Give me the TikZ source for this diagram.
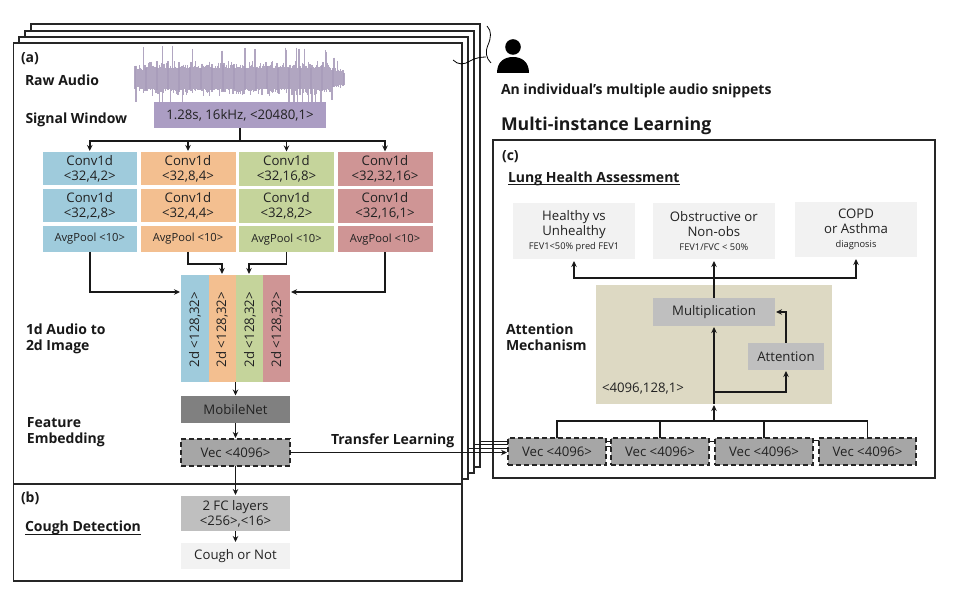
\documentclass[tikz,border=0pt]{standalone}
\usepackage{fontspec}
\setmainfont{Open Sans}
\usetikzlibrary{arrows.meta,calc}
\definecolor{cblue}{HTML}{9FCBDC}
\definecolor{corange}{HTML}{F3BF90}
\definecolor{cgreen}{HTML}{C5D49B}
\definecolor{cred}{HTML}{CF9595}
\definecolor{cpurple}{HTML}{AB9DC3}
\definecolor{cwave}{HTML}{A99DBB}
\definecolor{ctan}{HTML}{DDD9C3}
\definecolor{cgrey}{HTML}{BFBFBF}
\definecolor{clight}{HTML}{F2F2F2}
\definecolor{cvec}{HTML}{A6A6A6}
\definecolor{cdark}{HTML}{808080}
\definecolor{cink}{HTML}{222222}
\newcommand\bx[7]{\node[#6,minimum width={(#4-#2)*1pt},minimum height={(#5-#3)*1pt}] (#1) at ({(#2+#4)/2},{(#3+#5)/2}) {#7};}
\newcommand\smalltxt{\fontsize{9.3}{11}\selectfont}
\tikzset{
  box/.style={inner sep=0pt,outer sep=0pt,align=center,text=cink,font=\fontsize{13.2}{15}\selectfont},
  pool/.style={box,font=\fontsize{11.2}{13}\selectfont},
  frame/.style={draw=black!85,line width=1.3pt,fill=white},
  vecbox/.style={box,fill=cvec,draw=black!85,line width=1.4pt,dash pattern=on 5pt off 3pt},
  head/.style={inner sep=0pt,outer sep=0pt,anchor=west,align=left,yshift=-1.5pt,font=\fontsize{14}{16}\selectfont\bfseries,text=black!90},
  arr/.style={draw=black!90,line width=1.7pt,-{Stealth[length=6pt,width=5.5pt]},shorten >=1pt},
  lin/.style={draw=black!90,line width=1.7pt},
  thinlink/.style={draw=black!90,line width=0.9pt}
}
\begin{document}
\begin{tikzpicture}[x=1pt,y=-1pt]
\useasboundingbox (0,0) rectangle (959,593);
% stacked frames
\bx{f4}{31}{24}{480}{467}{frame}{}
\bx{f3}{25}{31}{474}{473}{frame}{}
\bx{f2}{19}{37}{468}{479}{frame}{}
\bx{fa}{13.5}{43}{462}{484}{frame}{}
\bx{fb}{13.5}{484}{462}{581}{frame}{}
\bx{fc}{493}{140}{935}{478}{frame}{}
% waveform
\pgfmathsetseed{4217}
\foreach \i in {0,1.1,...,210}{
  \pgfmathsetmacro{\xp}{135+\i}
  \pgfmathsetmacro{\env}{(\i<8?0.75:(\i>190?0.4+0.6*(210-\i)/20:1))}
  \pgfmathsetmacro{\ru}{rnd}
  \pgfmathsetmacro{\rd}{rnd}
  \pgfmathsetmacro{\up}{\env*(9+8*\ru*\ru+(\ru>0.93?(\ru-0.8)*75:0))}
  \pgfmathsetmacro{\dn}{\env*(9+8*\rd*\rd+(\rd>0.93?(\rd-0.8)*65:0))}
  \draw[cwave,line width=1.3pt,opacity=.9] (\xp,77-\up) -- (\xp,80+\dn);
}
% left column
\bx{sig}{154}{102}{326}{128}{box,fill=cpurple}{1.28s, 16kHz, <20480,1>}
\bx{a1}{42.5}{152}{137}{185.5}{box,fill=cblue}{Conv1d\\<32,4,2>}
\bx{a2}{42.5}{189}{137}{222.5}{box,fill=cblue}{Conv1d\\<32,2,8>}
\bx{a3}{42.5}{226}{137}{252}{pool,fill=cblue}{AvgPool <10>}
\bx{b1}{140.5}{152}{235.5}{185.5}{box,fill=corange}{Conv1d\\<32,8,4>}
\bx{b2}{140.5}{189}{235.5}{222.5}{box,fill=corange}{Conv1d\\<32,4,4>}
\bx{b3}{140.5}{226}{235.5}{252}{pool,fill=corange}{AvgPool <10>}
\bx{c1}{239}{152.5}{334}{186}{box,fill=cgreen}{Conv1d\\<32,16,8>}
\bx{c2}{239}{189.5}{334}{223}{box,fill=cgreen}{Conv1d\\<32,8,2>}
\bx{c3}{239}{226.5}{334}{252.5}{pool,fill=cgreen}{AvgPool <10>}
\bx{d1}{337.5}{152.5}{432.5}{186}{box,fill=cred}{Conv1d\\<32,32,16>}
\bx{d2}{337.5}{189.5}{432.5}{223}{box,fill=cred}{Conv1d\\<32,16,1>}
\bx{d3}{337.5}{226.5}{432.5}{252.5}{pool,fill=cred}{AvgPool <10>}
\bx{i1}{181}{275}{208.5}{382}{box,fill=cblue}{}
\bx{i2}{208.5}{275}{235.5}{382}{box,fill=corange}{}
\bx{i3}{235.5}{275}{263}{382}{box,fill=cgreen}{}
\bx{i4}{263}{275}{290}{382}{box,fill=cred}{}
\foreach \n/\cx in {t1/195,t2/222,t3/250,t4/277}
  \node[box,rotate=90] (\n) at (\cx,329.5) {2d <128,32>};
\bx{mob}{181}{396.5}{290}{423.5}{box,fill=cdark}{MobileNet}
\bx{vec}{181}{439}{290}{466}{vecbox}{Vec <4096>}
\bx{fc1}{181}{496}{290}{531}{box,fill=cgrey}{2 FC layers\\<256>,<16>}
\bx{cough}{181}{543}{290}{569}{box,fill=clight}{Cough or Not}
% connectors left
\coordinate (bus) at (240,141);
\draw[lin] (sig.south) -- (bus);
\draw[arr] (bus) -| (a1.north);
\draw[arr] (bus) -| (b1.north);
\draw[arr] (bus) -| (c1.north);
\draw[arr] (bus) -| (d1.north);
\draw[arr] (a3.south) |- (i1.west |- 0,292);
\draw[arr] (d3.south) |- (i4.east |- 0,292);
\coordinate (ib) at (222,264);
\coordinate (ic) at (249,264);
\draw[arr] (b3.south) |- (ib) -- (i2.north -| ib);
\draw[arr] (c3.south) |- (ic) -- (i3.north -| ic);
\draw[arr] (i3.south west) -- (mob.north);
\draw[arr] (mob.south) -- (vec.north);
\draw[arr] (vec.south) -- (fc1.north);
\draw[arr] (fc1.south) -- (cough.north);
% section labels
\node[head] (la) at (21,57) {(a)};
\node[head] (raw) at (25,79) {Raw Audio};
\node[head] (win) at (25.5,118) {Signal Window};
\node[head] (aud) at (26,337) {1d Audio to\\2d Image};
\node[head] (emb) at (27,431) {Feature\\Embedding};
\node[head] (tl) at (331,439) {Transfer Learning};
\node[head] (lb) at (21,497) {(b)};
\node[head] (cd) at (25,526) {Cough Detection};
\draw[lin,line width=0.9pt] (cd.west |- 0,534.5) -- (cd.east |- 0,534.5);
% person and wavy marks
\fill[black] (513,47) circle (7.8);
\fill[black] (497,73) .. controls (497,62) and (504,57) .. (513,57) .. controls (522,57) and (529,62) .. (529,73) -- cycle;
\draw[black,line width=0.8pt] (453,60) .. controls (458,65) and (464,65) .. (470,61) .. controls (475,58) and (481,57) .. (486,57);
\draw[black,line width=0.8pt] (487,26) .. controls (492,31) and (491,38) .. (488,45) .. controls (485,52) and (486,58) .. (491,63);
\node[head] (ind) at (501,89) {An individual’s multiple audio snippets};
\node[head,font=\fontsize{17.7}{20}\selectfont\bfseries] (mil) at (501,124) {Multi-instance Learning};
% right panel
\node[head] (lc) at (502,155) {(c)};
\node[head] (lung) at (508,177) {Lung Health Assessment};
\draw[lin,line width=0.9pt] (lung.west |- 0,184.5) -- (lung.east |- 0,184.5);
\node[head] (att) at (506,336) {Attention\\Mechanism};
\bx{h1}{513}{203}{635}{259}{box,fill=clight}{Healthy vs\\Unhealthy\\[-1pt]{\smalltxt FEV1<50\% pred FEV1}}
\bx{h2}{652.7}{203}{775}{259}{box,fill=clight}{Obstructive or\\Non-obs\\[-1pt]{\smalltxt FEV1/FVC < 50\%}}
\bx{h3}{795}{202}{917}{257}{box,fill=clight}{COPD\\or Asthma\\[-1pt]{\smalltxt diagnosis}}
\bx{tan}{596}{285}{832}{404}{box,fill=ctan}{}
\bx{mult}{653}{298}{775}{326}{box,fill=cgrey}{Multiplication}
\bx{attn}{748}{343}{824}{370}{box,fill=cgrey}{Attention}
\node[box,anchor=west] (dim) at (602,389) {<4096,128,1>};
\bx{v1}{508}{438}{606}{465}{vecbox}{Vec <4096>}
\bx{v2}{611}{438}{709}{465}{vecbox}{Vec <4096>}
\bx{v3}{715}{438}{813}{465}{vecbox}{Vec <4096>}
\bx{v4}{819}{438}{916}{465}{vecbox}{Vec <4096>}
% connectors right
\coordinate (hub) at (714,421);
\coordinate (topbus) at (714,278);
\draw[lin] (mult.north -| hub) -- (topbus);
\draw[arr,shorten >=2pt] (topbus) -- (topbus |- h2.south);
\draw[arr,shorten >=2pt] (topbus) -| (h1.south);
\draw[arr,shorten >=2pt] (topbus) -| (h3.south);
\draw[arr] (tan.south -| hub) -- (mult.south -| hub);
\draw[arr] (hub) -- (tan.south -| hub);
\coordinate (branch) at (714,392);
\draw[arr] (branch) -| (attn.south);
\draw[arr] (attn.north) |- (mult.east);
\foreach \v in {v1,v2,v3,v4} \draw[lin,line width=1.4pt] (\v.north) |- (hub);
\draw[arr,line width=1.2pt] (vec.east) -- (vec.east -| v1.west);
\draw[thinlink] (f4.east |- 0,441) -- (v1.west |- 0,441);
\draw[thinlink] (f3.east |- 0,444.5) -- (v1.west |- 0,444.5);
\draw[thinlink] (f2.east |- 0,448.5) -- (v1.west |- 0,448.5);
\draw[thinlink] (v1.east |- 0,441) -- (v2.west |- 0,441);
\draw[thinlink] (v1.east |- 0,446) -- (v2.west |- 0,446);
\draw[thinlink] (v2.east |- 0,441) -- (v3.west |- 0,441);
\draw[thinlink] (v3.east |- 0,440) -- (v4.west |- 0,440);
\end{tikzpicture}
\end{document}
